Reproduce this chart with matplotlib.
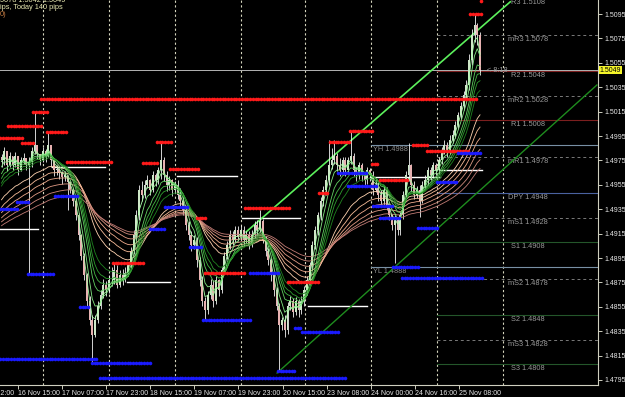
import numpy as np
import matplotlib
matplotlib.use('Agg')
import matplotlib.pyplot as plt
from matplotlib.transforms import blended_transform_factory

# prices are stored as pips above 1.4800
base = 1.4800
pip = 0.0001

first_open = 178
close_pips = [175, 183, 171, 179, 171, 179, 167, 175, 177, 171,
              174, 183, 188, 180, 175, 183, 179, 188, 175, 167,
              168, 165, 161, 163, 157, 151, 142, 130, 114, 97,
              81, 60, 44, 32, 44, 56, 65, 73, 69, 77,
              77, 85, 73, 81, 77, 83, 89, 101, 114, 130,
              151, 147, 155, 159, 151, 163, 159, 167, 175, 163,
              155, 159, 151, 155, 147, 142, 134, 122, 114, 106,
              110, 93, 77, 60, 52, 65, 73, 60, 77, 69,
              85, 97, 106, 114, 110, 118, 112, 118, 110, 114,
              106, 114, 122, 118, 125, 110, 101, 93, 81, 69,
              56, 40, 44, 36, 56, 60, 51, 60, 52, 60,
              69, 77, 89, 106, 118, 130, 142, 151, 159, 171,
              175, 179, 171, 167, 175, 167, 175, 179, 167, 163,
              171, 163, 159, 167, 163, 151, 155, 147, 142, 151,
              138, 130, 122, 126, 118, 130, 147, 163, 171, 155,
              147, 151, 142, 155, 159, 167, 163, 171, 167, 175,
              183, 188, 183, 192, 196, 204, 212, 220, 229, 237,
              257, 278, 286, 278, 249]
high_pips = [180, 186, 178, 182, 176, 182, 172, 178, 181, 176,
             178, 186, 215, 185, 180, 186, 184, 198, 182, 172,
             171, 169, 166, 166, 162, 158, 152, 144, 132, 115,
             99, 83, 64, 48, 48, 60, 69, 78, 76, 81,
             88, 91, 89, 85, 86, 88, 92, 104, 118, 134,
             155, 158, 159, 163, 160, 166, 165, 170, 190, 178,
             166, 162, 160, 158, 159, 152, 146, 138, 125, 117,
             114, 112, 96, 80, 63, 68, 78, 77, 80, 78,
             88, 100, 109, 118, 117, 121, 121, 122, 121, 117,
             117, 118, 125, 126, 134, 127, 113, 103, 95, 83,
             71, 58, 47, 48, 59, 64, 62, 63, 61, 64,
             72, 80, 92, 109, 121, 133, 145, 154, 163, 192,
             185, 192, 181, 177, 178, 178, 178, 199, 181, 170,
             174, 173, 164, 170, 169, 166, 160, 158, 151, 155,
             153, 140, 131, 130, 129, 133, 150, 166, 189, 172,
             158, 154, 155, 158, 163, 170, 170, 174, 173, 178,
             186, 192, 190, 196, 200, 207, 215, 223, 232, 241,
             262, 283, 295, 288, 280]
low_pips = [170, 171, 166, 170, 167, 170, 163, 166, 172, 167,
            83, 170, 180, 176, 171, 174, 174, 178, 170, 162,
            163, 160, 156, 158, 134, 148, 138, 126, 110, 93,
            77, 56, 40, 9, 30, 42, 53, 62, 64, 66,
            72, 74, 70, 71, 73, 75, 80, 86, 98, 110,
            126, 142, 144, 152, 147, 149, 154, 156, 160, 158,
            150, 151, 146, 148, 143, 138, 130, 118, 110, 101,
            102, 88, 72, 56, 44, 49, 61, 55, 57, 64,
            66, 82, 94, 102, 106, 108, 109, 110, 105, 107,
            102, 104, 111, 114, 116, 107, 97, 89, 76, 64,
            52, 3, 36, 30, 33, 52, 47, 48, 47, 49,
            56, 65, 74, 85, 102, 114, 126, 138, 147, 155,
            168, 172, 166, 162, 164, 162, 164, 172, 162, 158,
            160, 158, 154, 156, 158, 147, 149, 142, 137, 138,
            134, 126, 118, 91, 114, 114, 127, 144, 158, 150,
            143, 144, 129, 140, 152, 155, 159, 161, 163, 164,
            172, 180, 178, 180, 189, 193, 201, 209, 216, 225,
            233, 253, 272, 270, 245]

# GMMA ribbon: periods, starting levels at the left edge, colours
fast_periods = [3, 5, 8, 10, 12, 15]
fast_start = [1.4973, 1.4967, 1.4961, 1.4957, 1.4953, 1.4951]
slow_periods = [25, 32, 40, 50, 62, 75]
slow_start = [1.4940, 1.4934, 1.4930, 1.4926, 1.4923, 1.4920]
fast_colors = ['#a8ffa8', '#84e884', '#62d062', '#44b844', '#2e9e2e', '#1f821f']
slow_colors = ['#ffd2b0', '#f8bc98', '#eeaa8c', '#e09a84', '#d08a7c', '#c07a74']

# fractal levels: (start bar, end bar, price)
red_levels = [(14.4, 173, 1.5025), (11.5, 16.5, 1.5015), (2.4, 14.7, 1.5003),
              (-0.5, 7.5, 1.4993), (7.5, 11.5, 1.4989), (16.5, 23.8, 1.4998),
              (23.8, 40.5, 1.4974), (40.5, 51.5, 1.4891), (51.5, 56.5, 1.4973),
              (56.5, 62, 1.4990), (61.3, 71.5, 1.4968), (71, 74.7, 1.4928),
              (74, 88.5, 1.4883), (88.5, 105, 1.4936), (104, 115.8, 1.4875),
              (115.5, 118.7, 1.4948), (119.5, 126.7, 1.4990), (126.7, 134.7, 1.4999),
              (134.7, 137.6, 1.4972), (137.6, 147.8, 1.4959), (149.6, 154.7, 1.4988),
              (154.7, 170.4, 1.4983), (170.4, 174.7, 1.5095), (174.4, 174.4, 1.5106)]
blue_levels = [(-0.5, 5.6, 1.4935), (5.6, 9.6, 1.4941), (9.6, 19.5, 1.4882),
               (19.5, 27.5, 1.4946), (-0.5, 34.7, 1.4812), (28.5, 32.2, 1.4855),
               (32.9, 54.7, 1.4809), (35.8, 125.6, 1.4797), (54, 59.5, 1.4919),
               (59.5, 67.5, 1.4937), (68.5, 73.3, 1.4904), (73.3, 90.4, 1.4844),
               (90.4, 100.5, 1.4883), (100.5, 106.7, 1.4802), (106.7, 109.3, 1.4838),
               (109.3, 122.4, 1.4834), (122.4, 132.9, 1.4965), (126, 136.5, 1.4954),
               (135, 142, 1.4938), (137.6, 145, 1.4928), (142.4, 151.5, 1.4888),
               (145.6, 174.7, 1.4879), (151.5, 158.7, 1.4920), (158.4, 165.6, 1.4957),
               (166, 174.7, 1.4981)]
white_levels = [(-0.5, 13.3, 1.4919), (18.4, 37.6, 1.4970), (45.6, 61.3, 1.4875),
                (63.8, 85.6, 1.4962), (87.5, 108.5, 1.4928), (111.5, 133, 1.4856),
                (134, 159.5, 1.4961), (159.5, 174.7, 1.4967)]

# trend lines: ((bar, price), (bar, price))
light_trend = ((88.9, 1.49163), (185.0, 1.51050))
dark_trend = ((100.2, 1.48007), (216.5, 1.50368))

piv_names = ['R3', 'mR3', 'R2', 'mR2', 'R1', 'mR1', 'DPY', 'mS1', 'S1', 'mS2', 'S2', 'mS3', 'S3']
piv_values = [1.5108, 1.5078, 1.5048, 1.5028, 1.5008, 1.4978, 1.4948, 1.4928,
              1.4908, 1.4878, 1.4848, 1.4828, 1.4808]
yh, yl = 1.4988, 1.4888
bid = 1.5049

day_seps = [15, 39, 63, 87, 110.5, 134.5, 158.5, 182.5]
tick_pos = [6, 22, 38, 54, 70, 86, 102.4, 118.4, 134.4, 150.4, 166.4]
tick_labels = ['16 Nov 15:00', '17 Nov 07:00', '17 Nov 23:00', '18 Nov 15:00',
               '19 Nov 07:00', '19 Nov 23:00', '20 Nov 15:00', '23 Nov 08:00',
               '24 Nov 00:00', '24 Nov 16:00', '25 Nov 08:00']

plt.rcParams['font.family'] = ['Liberation Sans', 'DejaVu Sans']
fs = 5.0

close = base + np.array(close_pips) * pip
high = base + np.array(high_pips) * pip
low = base + np.array(low_pips) * pip
opn = np.r_[base + first_open * pip, close[:-1]]
high = np.maximum(high, np.maximum(opn, close))
low = np.minimum(low, np.minimum(opn, close))
n = len(close)
idx = np.arange(n)


def ema(values, period, start):
    k = 2.0 / (period + 1)
    level = start
    out = []
    for v in values:
        level = level + k * (v - level)
        out.append(level)
    return np.array(out)


fig = plt.figure(figsize=(6.25, 3.97), dpi=100, facecolor='black')
ax = fig.add_axes([0, 12 / 397, 598 / 625, 385 / 397], facecolor='black')
ax.set_xlim(-0.55, 216.9)
ax.set_ylim(1.47909, 1.510648)

# day separators
for d in day_seps:
    ax.axvline(d, color='#d4d4bc', lw=0.8, linestyle=(0, (2, 2.2)), zorder=1)

# pivot lines
xr = ax.get_xlim()[1]
for name, val in zip(piv_names, piv_values):
    if name.startswith('m'):
        kw = dict(color='#7a7a7a', lw=0.7, linestyle=(0, (3, 3)))
    elif name.startswith('R'):
        kw = dict(color='#7c1f1f', lw=0.8)
    elif name == 'DPY':
        kw = dict(color='#4a62a0', lw=0.8)
    else:
        kw = dict(color='#24562a', lw=0.8)
    ax.plot([158.5, xr], [val, val], zorder=1, **kw)
    ax.text(191.5, val - 0.00037, f'{name} {val:.4f}', color='#999999', fontsize=fs + 0.3,
            ha='center', va='center', zorder=2)
for val, name in [(yh, 'YH'), (yl, 'YL')]:
    ax.plot([134.5, xr], [val, val], color='#7890a4', lw=0.8, zorder=1)
    ax.text(135.2, val - 0.00037, f'{name} {val:.4f}', color='#8a8a8a', fontsize=fs + 0.3,
            ha='left', va='center', zorder=2)

ax.axhline(bid, color='#b4b4b4', lw=0.7, zorder=1)

# white lines
for a, b, p in white_levels:
    ax.plot([a, b], [p, p], color='white', lw=1.0, zorder=2)

# trend lines
ax.plot([light_trend[0][0], light_trend[1][0]], [light_trend[0][1], light_trend[1][1]],
        color='#5cf05c', lw=1.2, zorder=3)
ax.plot([dark_trend[0][0], dark_trend[1][0]], [dark_trend[0][1], dark_trend[1][1]],
        color='#1e8c1e', lw=1.0, zorder=3)

# candles
up = close >= opn
body_lo = np.minimum(opn, close)
body_h = np.maximum(np.abs(close - opn), 0.00003)
ax.vlines(idx, low, high, color='#f4f4f4', lw=0.6, zorder=3)
ax.bar(idx[up], body_h[up], bottom=body_lo[up], width=0.62, color='#cfe8c8',
       edgecolor='none', zorder=3.1)
ax.bar(idx[~up], body_h[~up], bottom=body_lo[~up], width=0.62, color='#e8b2b2',
       edgecolor='none', zorder=3.1)

# GMMA ribbon
for per, st, col in zip(slow_periods, slow_start, slow_colors):
    ax.plot(idx, ema(close, per, st), color=col, lw=0.6, zorder=3.3)
for per, st, col in zip(fast_periods, fast_start, fast_colors):
    ax.plot(idx, ema(close, per, st), color=col, lw=0.6, zorder=3.4)

# fractal dots
for levels, col in [(red_levels, '#ff1a1a'), (blue_levels, '#1a1aff')]:
    for a, b, p in levels:
        xs = np.arange(a, b + 0.01, 1.0) if b > a else np.array([a])
        ax.plot(xs, np.full(len(xs), p), linestyle='none', marker='o', markersize=2.6,
                markerfacecolor=col, markeredgecolor='none', zorder=4)

# timer and price label
ax.text(176.5, bid - 0.00003, '< 8:18', color='#9a9a9a', fontsize=fs + 0.3, ha='left', va='center', zorder=5)
trans = blended_transform_factory(ax.transAxes, ax.transData)
ax.text(1.003, bid, '1.5049', transform=trans, fontsize=fs, color='black', ha='left', va='center',
        bbox=dict(boxstyle='square,pad=0.12', facecolor='#f4f42a', edgecolor='none'), zorder=6, clip_on=False)

# axes styling
for s in ['top', 'left']:
    ax.spines[s].set_visible(False)
for s in ['bottom', 'right']:
    ax.spines[s].set_color('#cfcfbf')
    ax.spines[s].set_linewidth(0.8)
ax.yaxis.tick_right()
yt = np.round(np.arange(1.4795, 1.5100, 0.002), 4)
ax.set_yticks(yt)
ax.set_yticklabels([f'{v:.4f}' for v in yt])
ax.tick_params(axis='y', colors='#cfcfbf', labelcolor='#e6e6e6', labelsize=fs, length=3, width=0.7, pad=1.5)
ax.set_xticks(tick_pos)
ax.set_xticklabels(tick_labels, ha='left')
ax.tick_params(axis='x', colors='#cfcfbf', labelcolor='#e6e6e6', labelsize=fs, length=3, width=0.7, pad=0.8)
ax.text(-10.7, -0.012, '15 Nov 22:00', transform=blended_transform_factory(ax.transData, ax.transAxes),
        fontsize=fs, color='#e6e6e6', ha='left', va='top', clip_on=False)

# header text (clipped at the corner)
fig.text(0.0, 1 - 1.0 / 397, '5078 1.5042 1.5049', color='#e8e8b0', fontsize=fs + 0.3, ha='left', va='center')
fig.text(0.0, 1 - 7.5 / 397, 'ips, Today 140 pips', color='#e8e8b0', fontsize=fs + 0.3, ha='left', va='center')
fig.text(0.0, 1 - 14.5 / 397, '0)', color='#c07840', fontsize=fs + 0.3, ha='left', va='center')

fig.savefig('out.png', dpi=100, facecolor='black')
